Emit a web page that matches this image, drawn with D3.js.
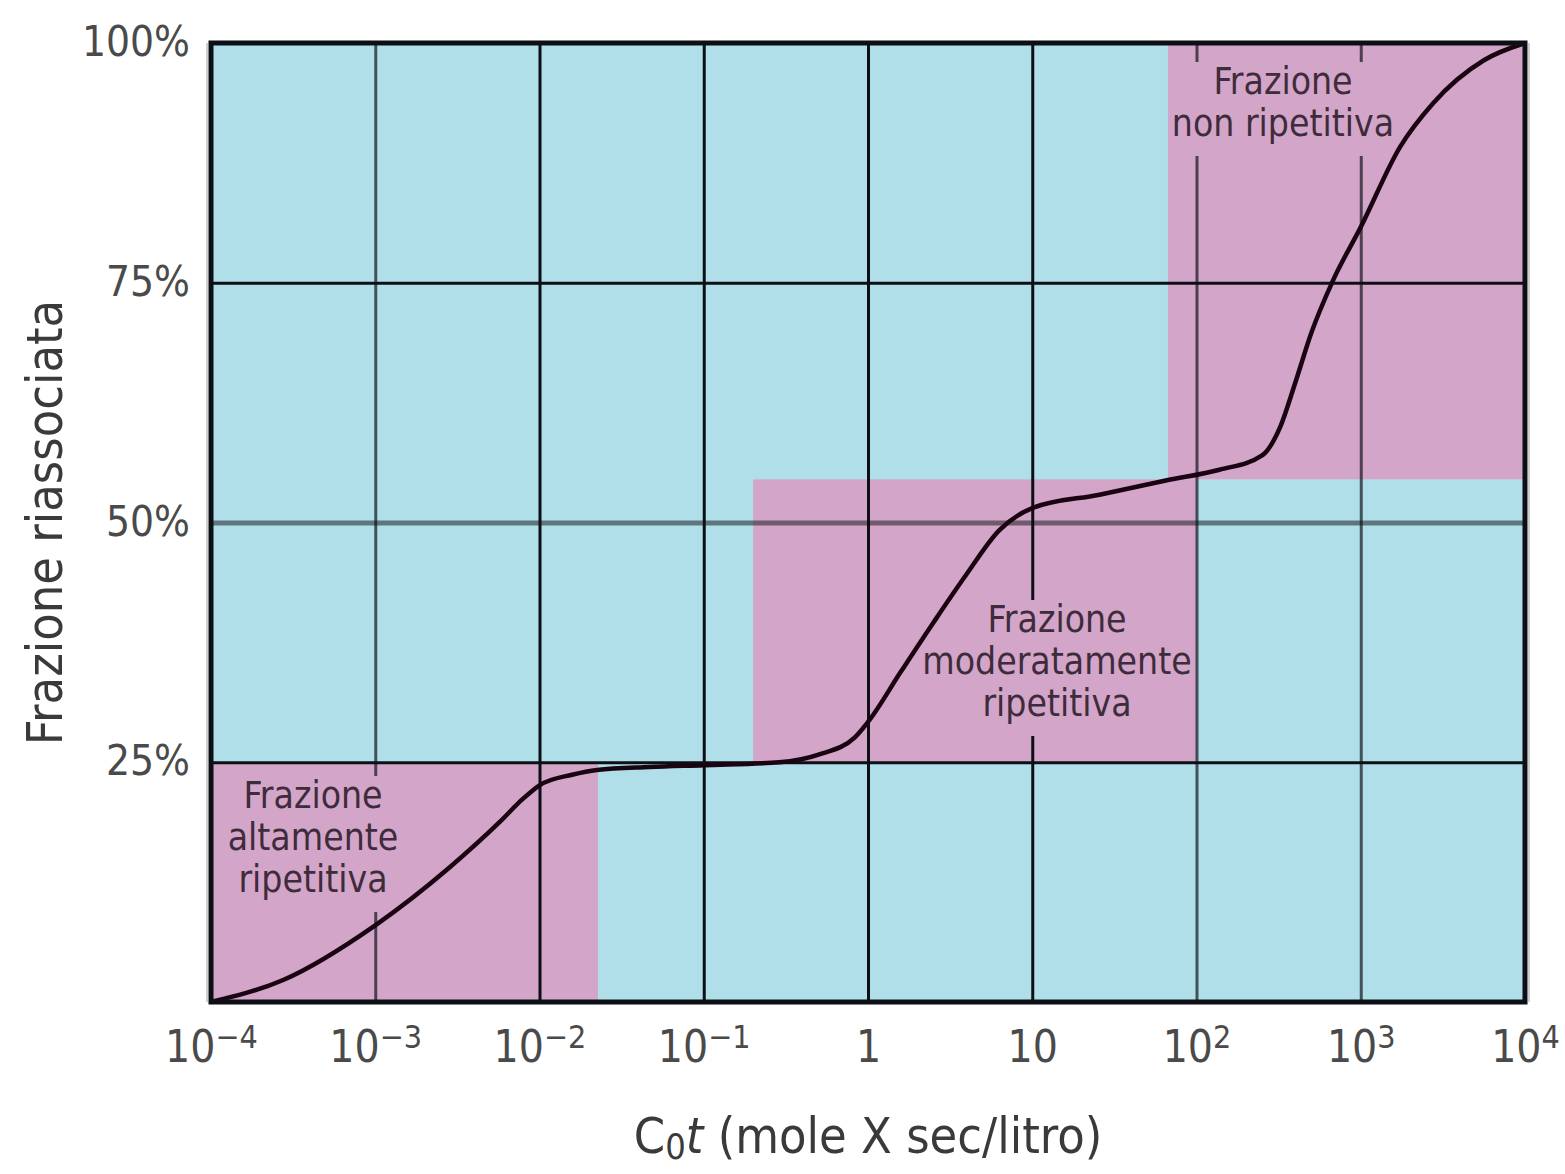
<!DOCTYPE html>
<html>
<head>
  <meta charset="utf-8">
  <title>Cot</title>
  <script src="https://d3js.org/d3.v7.min.js"></script>
  <style>
    body { margin: 0; background: #fff; }
    svg text { font-family: "Liberation Sans Narrow", "DejaVu Sans Condensed", "Liberation Sans", sans-serif; }
  </style>
</head>
<body>
<svg id="chart" width="1565" height="1174"></svg>
<script>
// values
var cot = [0.0001, 0.000275, 0.001, 0.00282, 0.00575, 0.00794, 0.01, 0.0158, 0.0224, 0.0468, 0.1, 0.288,
           0.5, 0.832, 1.0, 1.58, 2.51, 3.98, 6.31, 10, 25.7, 66.1, 138, 251, 324, 398, 501,
           676, 1000, 1740, 2750, 5620, 10000];
var reassoc = [0, 2.3, 8.0, 14.0, 18.8, 21.2, 22.6, 23.7, 24.2, 24.5, 24.7, 25.0,
               25.8, 27.6, 29.2, 34.4, 39.6, 44.6, 49.2, 51.5, 52.9, 54.4, 55.5, 57.0, 60.0, 64.5, 69.8,
               75.2, 80.8, 89.2, 93.7, 98.2, 100];

var fractionNames = [["Frazione", "altamente", "ripetitiva"],
                     ["Frazione", "moderatamente", "ripetitiva"],
                     ["Frazione", "non ripetitiva"]];
var fractionX0 = [0.0001, 0.2, 67];
var fractionX1 = [0.0227, 100, 10000];
var fractionY0 = [0, 25, 54.5];
var fractionY1 = [25, 54.5, 100];

var xTicks = [1e-4, 1e-3, 1e-2, 1e-1, 1, 10, 1e2, 1e3, 1e4];
var xTickBase = ["10", "10", "10", "10", "1", "10", "10", "10", "10"];
var xTickExp = ["\u22124", "\u22123", "\u22122", "\u22121", "", "", "2", "3", "4"];
var yTicks = [25, 50, 75, 100];
var yTickLabels = ["25%", "50%", "75%", "100%"];

var svg = d3.select("#chart");
var pLeft = 211, pRight = 1525, pTop = 43, pBottom = 1002;

var x = d3.scaleLog().domain([1e-4, 1e4]).range([pLeft, pRight]);
var y = d3.scaleLinear().domain([0, 100]).range([pBottom, pTop]);

var blue = "#b0dfe9", pink = "#d3a5c9", ink = "#0c0f14";

// background
svg.append("rect").attr("x", pLeft).attr("y", pTop)
  .attr("width", pRight - pLeft).attr("height", pBottom - pTop).attr("fill", blue);

svg.selectAll("rect.frac").data(fractionX0).enter().append("rect")
  .attr("class", "frac")
  .attr("x", function(d, i) { return x(fractionX0[i]); })
  .attr("y", function(d, i) { return y(fractionY1[i]); })
  .attr("width", function(d, i) { return x(fractionX1[i]) - x(fractionX0[i]); })
  .attr("height", function(d, i) { return y(fractionY0[i]) - y(fractionY1[i]); })
  .attr("fill", pink);

// grid
var grayX = [1e-3, 1e2, 1e3];
svg.append("g")
  .attr("transform", "translate(0," + pBottom + ")")
  .call(d3.axisBottom(x).tickValues(xTicks.slice(1, -1)).tickSize(-(pBottom - pTop)).tickFormat(""))
  .call(function(g) { g.select(".domain").remove(); })
  .selectAll(".tick line")
  .attr("stroke", ink)
  .attr("stroke-width", 3)
  .attr("stroke-opacity", function(d) { return grayX.indexOf(d) >= 0 ? 0.68 : 1; });

svg.append("g")
  .attr("transform", "translate(" + pLeft + ",0)")
  .call(d3.axisLeft(y).tickValues([25, 50, 75]).tickSize(-(pRight - pLeft)).tickFormat(""))
  .call(function(g) { g.select(".domain").remove(); })
  .selectAll(".tick line")
  .attr("stroke", ink)
  .attr("stroke-width", function(d) { return d === 50 ? 5 : 3; })
  .attr("stroke-opacity", function(d) { return d === 50 ? 0.5 : 1; });

// label knockouts (grid lines break behind the labels)
var lineH = 42;
var labelCx = [313, 1057, 1283];
var labelTop = [776, 600, 62];
var labelW = [172, 272, 226];
svg.selectAll("rect.knock").data(fractionNames).enter().append("rect")
  .attr("class", "knock")
  .attr("x", function(d, i) { return labelCx[i] - labelW[i] / 2; })
  .attr("y", function(d, i) { return labelTop[i]; })
  .attr("width", function(d, i) { return labelW[i]; })
  .attr("height", function(d) { return d.length * lineH + 10; })
  .attr("fill", pink);

// curve
var line = d3.line()
  .x(function(d, i) { return x(cot[i]); })
  .y(function(d) { return y(d); })
  .curve(d3.curveMonotoneX);
svg.append("path").datum(reassoc)
  .attr("d", line)
  .attr("fill", "none")
  .attr("stroke", "#1a0412")
  .attr("stroke-width", 4.5)
  .attr("stroke-linejoin", "round");

// fraction labels
svg.selectAll("text.frac").data(fractionNames).enter().append("text")
  .attr("class", "frac")
  .attr("text-anchor", "middle")
  .attr("font-size", 37)
  .attr("fill", "#3e2c3b")
  .each(function(d, i) {
    d3.select(this).selectAll("tspan").data(d).enter().append("tspan")
      .attr("x", labelCx[i])
      .attr("y", function(s, j) { return labelTop[i] + 32 + j * lineH; })
      .text(function(s) { return s; });
  });

// frame
svg.append("line").attr("x1", pLeft - 4).attr("x2", pLeft - 4).attr("y1", pTop).attr("y2", pBottom)
  .attr("stroke", "#cfcfcf").attr("stroke-width", 2);
svg.append("line").attr("x1", pRight + 4).attr("x2", pRight + 4).attr("y1", pTop).attr("y2", pBottom)
  .attr("stroke", "#cfcfcf").attr("stroke-width", 2);
svg.append("rect").attr("x", pLeft).attr("y", pTop)
  .attr("width", pRight - pLeft).attr("height", pBottom - pTop)
  .attr("fill", "none").attr("stroke", ink).attr("stroke-width", 5);

// x tick labels
var xa = svg.append("g")
  .attr("transform", "translate(0," + pBottom + ")")
  .call(d3.axisBottom(x).tickValues(xTicks).tickSize(0).tickFormat(""));
xa.select(".domain").remove();
xa.selectAll(".tick text").remove();
xa.selectAll(".tick").append("text")
  .attr("y", 60)
  .attr("text-anchor", "middle")
  .attr("fill", "#4a4a4a")
  .attr("font-size", 44)
  .each(function(d, i) {
    var t = d3.select(this);
    t.append("tspan").text(xTickBase[i]);
    if (xTickExp[i]) t.append("tspan").attr("font-size", 32).attr("dy", -14).text(xTickExp[i]);
  });

// y tick labels
var ya = svg.append("g")
  .attr("transform", "translate(" + pLeft + ",0)")
  .call(d3.axisLeft(y).tickValues(yTicks).tickSize(0)
    .tickFormat(function(d, i) { return yTickLabels[i]; }));
ya.select(".domain").remove();
ya.selectAll(".tick text")
  .attr("x", -21)
  .attr("dy", "0.3em")
  .attr("fill", "#4a4a4a")
  .attr("font-size", 42)
  .attr("font-family", "Liberation Sans Narrow, DejaVu Sans Condensed, sans-serif");

// axis titles
var xt = svg.append("text")
  .attr("x", (pLeft + pRight) / 2)
  .attr("y", 1153)
  .attr("text-anchor", "middle")
  .attr("font-size", 50)
  .attr("fill", "#3a3a3a");
xt.append("tspan").text("C");
xt.append("tspan").attr("font-size", 36).attr("dy", 6).text("0");
xt.append("tspan").attr("dy", -6).attr("font-style", "italic").text("t");
xt.append("tspan").text(" (mole X sec/litro)");

svg.append("text")
  .attr("transform", "translate(62," + (pTop + pBottom) / 2 + ") rotate(-90)")
  .attr("text-anchor", "middle")
  .attr("font-size", 50)
  .attr("fill", "#3a3a3a")
  .text("Frazione riassociata");
</script>
</body>
</html>
